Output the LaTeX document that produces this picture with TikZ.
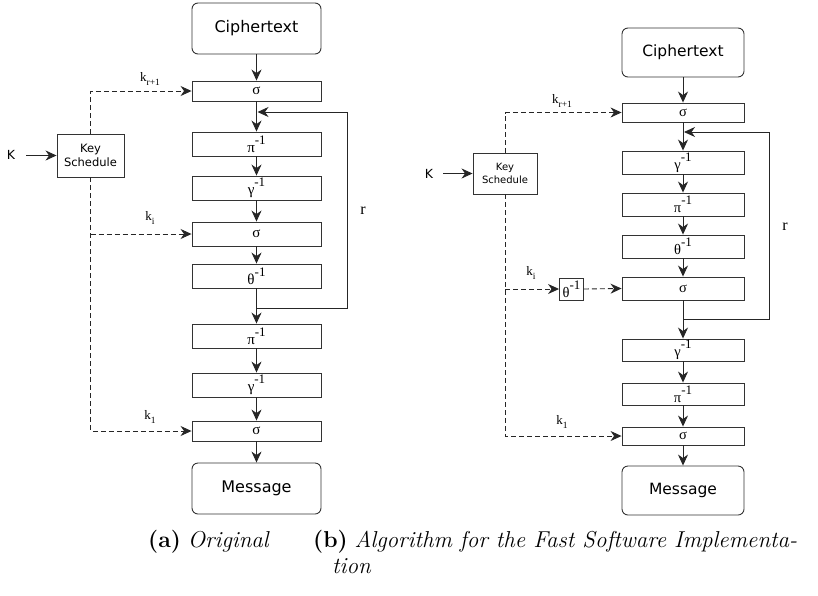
\documentclass[tikz,border=0pt]{standalone}
\usepackage{fontspec}
\setsansfont{DejaVu Sans}
\newfontfamily\greekfont{Liberation Serif}
\usetikzlibrary{arrows.meta}

% operation label with a raised "-1"
\newcommand\invop[1]{#1\raisebox{0.55em}{\fontsize{13}{13}\selectfont -1}}
% round key label k with a lowered index
\newcommand\keylbl[1]{{\greekfont\fontsize{13}{13}\selectfont k\raisebox{-0.35em}{\fontsize{9.5}{9.5}\selectfont #1}}}

\begin{document}
\begin{tikzpicture}[x=1pt,y=-1pt,
  blk/.style={draw=black!80, line width=0.9pt, inner sep=0pt,
    font=\greekfont\fontsize{15}{15}\selectfont},
  opbox/.style={blk, minimum width=129pt},
  opboxr/.style={blk, minimum width=122pt, font=\greekfont\fontsize{14.5}{14.5}\selectfont},
  term/.style={blk, rounded corners=6pt, font=\sffamily\fontsize{16}{16}\selectfont},
  ksbox/.style={blk, align=center, font=\sffamily\fontsize{11.5}{13.5}\selectfont},
  flow/.style={-{Stealth[length=11pt,width=10pt,inset=3.5pt]}, draw=black!85, line width=0.9pt},
  keyline/.style={flow, dash pattern=on 5pt off 3pt},
  loopline/.style={flow},
  lbl/.style={inner sep=0pt},
  caption/.style={inner sep=0pt, anchor=base west, font=\fontsize{23}{27}\selectfont}
]
\useasboundingbox (0,0) rectangle (818,595);

%% ---------------- (a) original ----------------
\node[term, minimum width=129pt, minimum height=51pt] (Lct) at (256.5,28.5) {Ciphertext};
\node[opbox, minimum height=20pt] (Ls1) at (256.5,91) {σ};
\node[opbox, minimum height=24pt] (Lp1) at (256.5,144) {\invop{π}};
\node[opbox, minimum height=24pt] (Lg1) at (256.5,188) {\invop{γ}};
\node[opbox, minimum height=24pt] (Ls2) at (256.5,234) {σ};
\node[opbox, minimum height=24pt] (Lt1) at (256.5,276) {\invop{θ}};
\node[opbox, minimum height=24pt] (Lp2) at (256.5,336) {\invop{π}};
\node[opbox, minimum height=24pt] (Lg2) at (256.5,385) {\invop{γ}};
\node[opbox, minimum height=20pt] (Ls3) at (256.5,431) {σ};
\node[term, minimum width=129pt, minimum height=51pt] (Lmsg) at (256.5,488.5) {Message};

\node[ksbox, minimum width=67pt, minimum height=43pt] (Lks) at (90.5,155.5) {Key\\Schedule};
\node[lbl, font=\sffamily\fontsize{12.5}{12.5}\selectfont] (LK) at (11,155) {K};
\coordinate (LKs) at (26,155.5);

\draw[flow] (Lct) -- (Ls1);
\draw[flow] (Ls1) -- (Lp1);
\draw[flow] (Lp1) -- (Lg1);
\draw[flow] (Lg1) -- (Ls2);
\draw[flow] (Ls2) -- (Lt1);
\draw[flow] (Lt1) -- (Lp2);
\draw[flow] (Lp2) -- (Lg2);
\draw[flow] (Lg2) -- (Ls3);
\draw[flow] (Ls3) -- (Lmsg);

% round loop
\coordinate (LlA) at (256.5,308);
\coordinate (LlB) at (347,308);
\coordinate (LlC) at (347,112);
\coordinate (LlD) at (257.5,112);
\draw[loopline] (LlA) -- (LlB) -- (LlC) -- (LlD);
\node[lbl, font=\greekfont\fontsize{16}{16}\selectfont] (Lr) at (363,211) {r};

% key distribution
\draw[flow] (LKs) -- (Lks.west);
\draw[keyline] (Lks.north) |- (Ls1.west);
\draw[keyline] (Lks.south) |- (Ls3.west);
\draw[keyline] (Lks.south |- Ls2.west) -- (Ls2.west);
\node[lbl] (Lkr) at (150,79) {\keylbl{r+1}};
\node[lbl] (Lki) at (150,218) {\keylbl{i}};
\node[lbl] (Lk1) at (150,417) {\keylbl{1}};

%% ---------------- (b) fast software version ----------------
\node[term, minimum width=122pt, minimum height=49pt, font=\sffamily\fontsize{15.5}{15.5}\selectfont] (Rct) at (683,52.5) {Ciphertext};
\node[opboxr, minimum height=19pt] (Rs1) at (683,112.5) {σ};
\node[opboxr, minimum height=23pt] (Rg1) at (683,162.5) {\invop{γ}};
\node[opboxr, minimum height=23pt] (Rp1) at (683,204.5) {\invop{π}};
\node[opboxr, minimum height=23pt] (Rt1) at (683,246.5) {\invop{θ}};
\node[opboxr, minimum height=23pt] (Rs2) at (683,288.5) {σ};
\node[opboxr, minimum height=22pt] (Rg2) at (683,350) {\invop{γ}};
\node[opboxr, minimum height=22pt] (Rp2) at (683,394) {\invop{π}};
\node[opboxr, minimum height=18pt] (Rs3) at (683,436) {σ};
\node[term, minimum width=122pt, minimum height=49pt, font=\sffamily\fontsize{15.5}{15.5}\selectfont] (Rmsg) at (683,490.5) {Message};

\node[ksbox, minimum width=64pt, minimum height=41pt, font=\sffamily\fontsize{10}{12.5}\selectfont] (Rks) at (505,173.5) {Key\\Schedule};
\node[lbl, font=\sffamily\fontsize{12.5}{12.5}\selectfont] (RK) at (429,174) {K};
\coordinate (RKs) at (443,173.5);
\node[blk, minimum width=24pt, minimum height=22pt, font=\greekfont\fontsize{14.5}{14.5}\selectfont] (Rth) at (571.5,289) {\invop{θ}\hspace{1pt}};

\draw[flow] (Rct) -- (Rs1);
\draw[flow] (Rs1) -- (Rg1);
\draw[flow] (Rg1) -- (Rp1);
\draw[flow] (Rp1) -- (Rt1);
\draw[flow] (Rt1) -- (Rs2);
\draw[flow] (Rs2) -- (Rg2);
\draw[flow] (Rg2) -- (Rp2);
\draw[flow] (Rp2) -- (Rs3);
\draw[flow] (Rs3) -- (Rmsg);

% round loop
\coordinate (RlA) at (683,319);
\coordinate (RlB) at (769,319);
\coordinate (RlC) at (769,132);
\coordinate (RlD) at (684,132);
\draw[loopline] (RlA) -- (RlB) -- (RlC) -- (RlD);
\node[lbl, font=\greekfont\fontsize{16}{16}\selectfont] (Rr) at (785,227) {r};

% key distribution
\draw[flow] (RKs) -- (Rks.west);
\draw[keyline] (Rks.north) |- (Rs1.west);
\draw[keyline] (Rks.south) |- (Rs3.west);
\draw[keyline] (Rks.south |- Rth.west) -- (Rth.west);
\draw[keyline] (Rth.east) -- (Rs2.west);
\node[lbl] (Rkr) at (562,101) {\keylbl{r+1}};
\node[lbl] (Rki) at (531,273) {\keylbl{i}};
\node[lbl] (Rk1) at (562,422) {\keylbl{1}};

%% ---------------- captions ----------------
\node[caption] (capa) at (148,547) {\textbf{(a)} \textit{Original}};
\node[caption] (capb) at (313,547) {\textbf{(b)} \textit{Algorithm for the Fast Software Implementa-}};
\node[caption] (capc) at (332,573) {\textit{tion}};
\end{tikzpicture}
\end{document}
